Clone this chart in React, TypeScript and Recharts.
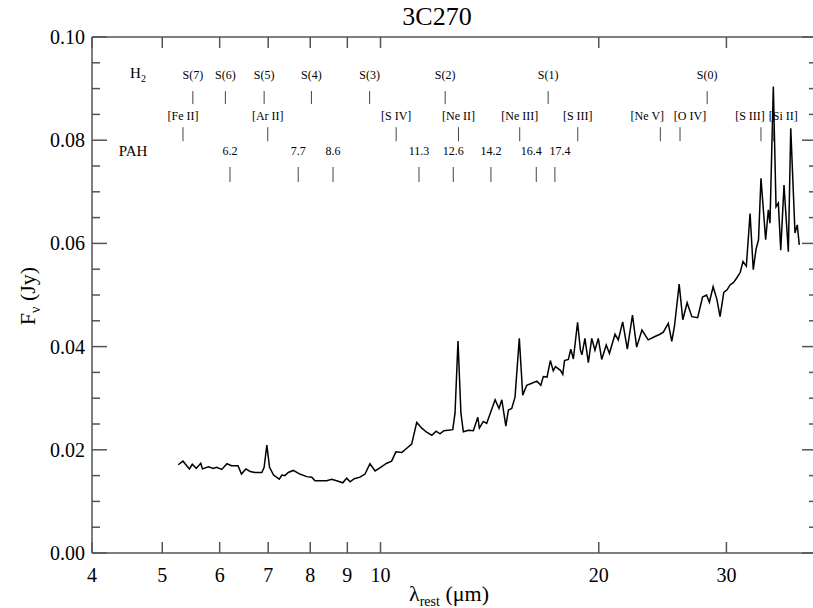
import React from "react";
import { ComposedChart, Line, Scatter, XAxis, YAxis } from "recharts";

// spectrum (rest wavelength in micron, flux in Jy)
const wavelength = [
  5.26, 5.34, 5.45, 5.5, 5.57, 5.65, 5.68, 5.79, 5.88, 5.94,
  6.04, 6.14, 6.23, 6.36, 6.43, 6.52, 6.61, 6.71, 6.86, 6.91,
  6.97, 7.03, 7.12, 7.25, 7.31, 7.38, 7.46, 7.58, 7.74, 7.91,
  8.04, 8.12, 8.3, 8.43, 8.56, 8.7, 8.87, 8.98, 9.08, 9.2,
  9.37, 9.52, 9.67, 9.83, 9.98, 10.2, 10.36, 10.5, 10.7, 10.87,
  11.04, 11.22, 11.4, 11.58, 11.77, 11.93, 12.08, 12.23, 12.58, 12.67,
  12.79, 12.91, 13.01, 13.22, 13.43, 13.62, 13.69, 13.86, 14.01, 14.39,
  14.57, 14.7, 14.89, 15.01, 15.17, 15.33,
  15.54, 15.71, 15.91, 16.17, 16.43, 16.64, 16.77, 16.97, 17.15, 17.31,
  17.43, 17.71, 17.84, 17.94, 18.16, 18.3, 18.45, 18.7, 18.87, 18.96,
  19.14, 19.35, 19.56, 19.76, 19.97, 20.19, 20.48, 20.69, 21.06, 21.28,
  21.58, 21.9, 22.26, 22.56, 22.94, 23.4, 23.87, 24.29, 24.55, 24.94,
  25.22, 25.44, 25.82, 26.12, 26.48, 26.88, 27.38, 27.81, 28.17, 28.42,
  28.76, 29.1, 29.4, 29.75, 30.06, 30.37, 30.67, 31.0, 31.35, 31.62,
  31.96, 32.34, 32.67, 32.96, 33.22, 33.48, 33.98, 34.27, 34.45, 34.82,
  35.12, 35.38, 35.65, 36.02, 36.52, 36.8, 37.3, 37.57, 37.81,
];
const flux = [
  0.0171, 0.0178, 0.0163, 0.0172, 0.0164, 0.0174, 0.0163, 0.0167, 0.0164, 0.0166,
  0.0162, 0.0173, 0.0169, 0.0169, 0.0153, 0.0163, 0.0158, 0.0156, 0.0156, 0.0166,
  0.0209, 0.0166, 0.0151, 0.0143, 0.0151, 0.015, 0.0156, 0.016, 0.0153, 0.0148,
  0.0147, 0.014, 0.014, 0.014, 0.0143, 0.014, 0.0136, 0.0145, 0.0138, 0.0144,
  0.0147, 0.0153, 0.0173, 0.0159, 0.0165, 0.0174, 0.0178, 0.0196, 0.0195, 0.0203,
  0.0211, 0.0253, 0.0242, 0.0234, 0.0228, 0.0236, 0.0231, 0.0237, 0.0239, 0.0271,
  0.0411, 0.0271, 0.0235, 0.0238, 0.0237, 0.0263, 0.0242, 0.0255, 0.0251, 0.0297,
  0.028, 0.0297, 0.0246, 0.0277, 0.028, 0.0302,
  0.0416, 0.0306, 0.0325, 0.0329, 0.0333, 0.0325, 0.0342, 0.0341, 0.0373, 0.0353,
  0.0361, 0.0354, 0.0346, 0.0373, 0.0375, 0.0395, 0.0376, 0.0447, 0.0393, 0.0384,
  0.0416, 0.0369, 0.0416, 0.0393, 0.0416, 0.0375, 0.0403, 0.0387, 0.0424, 0.0413,
  0.0448, 0.0395, 0.0461, 0.0399, 0.0432, 0.0413, 0.0419, 0.0424, 0.0428, 0.0445,
  0.041, 0.044, 0.0521, 0.0452, 0.0485, 0.0458, 0.0456, 0.0496, 0.05, 0.0486,
  0.0516, 0.0492, 0.0458, 0.0505, 0.051, 0.052, 0.0524, 0.0533, 0.0544, 0.0565,
  0.0556, 0.0658, 0.0549, 0.0589, 0.0607, 0.0726, 0.0607, 0.0665, 0.0639, 0.0904,
  0.0671, 0.0678, 0.0587, 0.0713, 0.0584, 0.0823, 0.062, 0.0636, 0.0597,
];

// line identifications
const h2Names = ["S(7)", "S(6)", "S(5)", "S(4)", "S(3)", "S(2)", "S(1)", "S(0)"];
const h2Waves = [5.51, 6.11, 6.91, 8.03, 9.66, 12.28, 17.03, 28.22];
const ionNames = ["[Fe II]", "[Ar II]", "[S IV]", "[Ne II]", "[Ne III]", "[S III]", "[Ne V]", "[O IV]", "[S III]", "[Si II]"];
const ionWaves = [5.34, 6.99, 10.51, 12.81, 15.56, 18.71, 24.32, 25.89, 33.48, 34.82];
const pahNames = ["6.2", "7.7", "8.6", "11.3", "12.6", "14.2", "16.4", "17.4"];
const pahWaves = [6.2, 7.7, 8.6, 11.3, 12.6, 14.2, 16.4, 17.4];

const xTicks = [4, 5, 6, 7, 8, 9, 10, 20, 30];
const yTicks = [
  0, 0.005, 0.01, 0.015, 0.02, 0.025, 0.03, 0.035, 0.04, 0.045, 0.05,
  0.055, 0.06, 0.065, 0.07, 0.075, 0.08, 0.085, 0.09, 0.095, 0.1,
];

const SERIF = '"Liberation Serif", Tinos, "DejaVu Serif", "Times New Roman", Times, serif';
const AXIS = "#555";

// row heights for the identification marks (in flux units, where the tick starts)
const rowLevel: Record<string, number> = { h2: 0.087, ion: 0.0798, pah: 0.0719 };
const rowLook: Record<string, { tick: number; textDy: number }> = {
  h2: { tick: 13, textDy: -29 },
  ion: { tick: 14, textDy: -25 },
  pah: { tick: 15, textDy: -31 },
};
// crowded labels are pushed sideways
const labelNudge: Record<string, number> = {
  "[Ne V]": -13,
  "[O IV]": 10,
  "[S III]@33.48": -11,
  "[Si II]": 10,
  "16.4": -5,
  "17.4": 5,
};

const spectrum = wavelength.map((lam, i) => ({ lam, f: flux[i] }));
const marks = [
  ...h2Names.map((name, i) => ({ name, lam: h2Waves[i], row: "h2" })),
  ...ionNames.map((name, i) => ({ name, lam: ionWaves[i], row: "ion" })),
  ...pahNames.map((name, i) => ({ name, lam: pahWaves[i], row: "pah" })),
].map((m) => ({ ...m, f: rowLevel[m.row] }));

const isMajor = (v: number) => Math.abs(v / 0.02 - Math.round(v / 0.02)) < 1e-6;

const LeftTick = ({ x, y, payload }: any) => {
  const major = isMajor(payload.value);
  return (
    <g>
      <line x1={x} x2={x + (major ? 15 : 8)} y1={y} y2={y} stroke={AXIS} strokeWidth={1.5} />
      {major && (
        <text x={x - 7} y={y + 7} textAnchor="end" style={{ fontFamily: SERIF }} fontSize={20} fill="#000">
          {payload.value.toFixed(2)}
        </text>
      )}
    </g>
  );
};

const RightTick = ({ x, y, payload }: any) => {
  const major = isMajor(payload.value);
  return <line x1={x} x2={x - (major ? 15 : 8)} y1={y} y2={y} stroke={AXIS} strokeWidth={1.5} />;
};

const BottomTick = ({ x, y, payload }: any) => (
  <g>
    <line x1={x} x2={x} y1={y} y2={y - 11} stroke={AXIS} strokeWidth={1.5} />
    <text x={x} y={y + 29} textAnchor="middle" style={{ fontFamily: SERIF }} fontSize={20} fill="#000">
      {payload.value}
    </text>
  </g>
);

const TopTick = ({ x, y }: any) => (
  <line x1={x} x2={x} y1={y} y2={y + 11} stroke={AXIS} strokeWidth={1.5} />
);

const LineMark = (props: any) => {
  const { cx, cy, payload } = props;
  const look = rowLook[payload.row];
  const dx = labelNudge[`${payload.name}@${payload.lam}`] ?? labelNudge[payload.name] ?? 0;
  return (
    <g>
      <line x1={cx} x2={cx} y1={cy} y2={cy - look.tick} stroke="#444" strokeWidth={1} />
      <text
        x={cx + dx}
        y={cy + look.textDy + 4}
        textAnchor="middle"
        style={{ fontFamily: SERIF }}
        fontSize={12}
        fill="#000"
      >
        {payload.name}
      </text>
    </g>
  );
};

const overlay = (left: number, top: number, size: number): React.CSSProperties => ({
  position: "absolute",
  left,
  top,
  transform: "translate(-50%, -50%)",
  fontFamily: SERIF,
  fontSize: size,
  lineHeight: 1,
  whiteSpace: "nowrap",
  color: "#000",
});

const App = () => {
  return (
    <div
      style={{
        position: "fixed",
        left: 0,
        top: 0,
        width: 813,
        height: 608,
        overflow: "hidden",
        background: "#fff",
        fontFamily: SERIF,
      }}
    >
      <ComposedChart width={830} height={608} data={spectrum} margin={{ top: 36, right: 12, bottom: 0, left: 0 }}>
        <XAxis
          dataKey="lam"
          type="number"
          scale="log"
          domain={[4, 40]}
          allowDataOverflow
          ticks={xTicks}
          interval={0}
          height={55}
          tickSize={0}
          tickMargin={0}
          tickLine={false}
          tick={BottomTick}
          axisLine={{ stroke: AXIS, strokeWidth: 1.5 }}
        />
        <XAxis
          xAxisId="top"
          dataKey="lam"
          orientation="top"
          type="number"
          scale="log"
          domain={[4, 40]}
          allowDataOverflow
          ticks={xTicks}
          interval={0}
          height={1}
          tickSize={0}
          tickMargin={0}
          tickLine={false}
          tick={TopTick}
          axisLine={{ stroke: AXIS, strokeWidth: 1.5 }}
        />
        <YAxis
          type="number"
          domain={[0, 0.1]}
          allowDataOverflow
          ticks={yTicks}
          interval={0}
          width={92}
          tickSize={0}
          tickMargin={0}
          tickLine={false}
          tick={LeftTick}
          axisLine={{ stroke: AXIS, strokeWidth: 1.5 }}
        />
        <YAxis
          yAxisId="right"
          orientation="right"
          type="number"
          domain={[0, 0.1]}
          allowDataOverflow
          ticks={yTicks}
          interval={0}
          width={1}
          tickSize={0}
          tickMargin={0}
          tickLine={false}
          tick={RightTick}
          axisLine={{ stroke: AXIS, strokeWidth: 1.5 }}
        />
        <Scatter data={marks} dataKey="f" shape={LineMark} isAnimationActive={false} />
        <Line
          type="linear"
          dataKey="f"
          stroke="#000"
          strokeWidth={1.5}
          dot={false}
          isAnimationActive={false}
        />
      </ComposedChart>

      <div style={overlay(437, 17, 26)}>3C270</div>
      <div style={overlay(138, 75, 15)}>
        H<sub style={{ fontSize: 10 }}>2</sub>
      </div>
      <div style={overlay(133, 151, 15)}>PAH</div>
      <div style={{ ...overlay(30, 296, 22), transform: "translate(-50%, -50%) rotate(-90deg)" }}>
        F<sub style={{ fontSize: 14 }}>ν</sub> (Jy)
      </div>
      <div style={overlay(449, 596, 22)}>
        λ<sub style={{ fontSize: 14 }}>rest</sub> (μm)
      </div>
    </div>
  );
};

export default App;
